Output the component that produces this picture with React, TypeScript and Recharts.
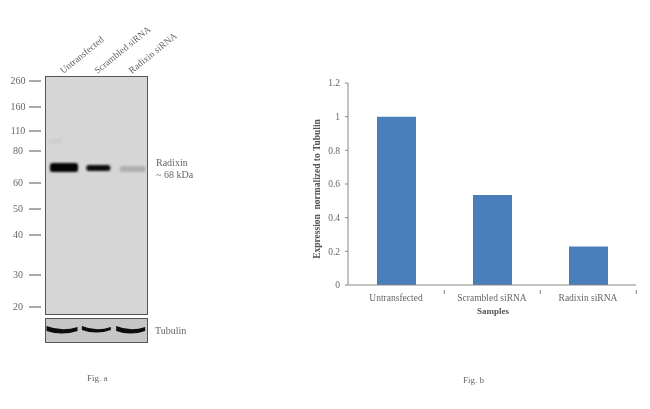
import React from "react";
import { BarChart, Bar, XAxis, YAxis } from "recharts";

// Fig. a — western blot lanes
const lanes = ["Untransfected", "Scrambled siRNA", "Radixin siRNA"];
const markerLabels = ["260", "160", "110", "80", "60", "50", "40", "30", "20"];
const markerMigration = [5, 31, 55, 75, 107, 133, 159, 199, 231];
const radixinBandTop = [87, 89, 90];
const radixinBandBottom = [96, 95, 96];
const radixinDarkness = [1, 0.96, 0.18];
const faintBandTop = [63, null, null];
const faintBandBottom = [67, null, null];
const tubulinBandTop = [8, 8, 8];
const tubulinBandBottom = [16, 15, 16];

// Fig. b — normalized expression
const samples = ["Untransfected", "Scrambled siRNA", "Radixin siRNA"];
const expression = [1.0, 0.535, 0.228];
const yTicks = [0, 0.2, 0.4, 0.6, 0.8, 1, 1.2];

const blotData = lanes.map((lane, i) => ({
  lane,
  band: [radixinBandTop[i], radixinBandBottom[i]],
  faint: faintBandTop[i] == null ? null : [faintBandTop[i], faintBandBottom[i]],
  darkness: radixinDarkness[i],
}));
const tubulinData = lanes.map((lane, i) => ({
  lane,
  band: [tubulinBandTop[i], tubulinBandBottom[i]],
}));
const expressionData = samples.map((sample, i) => ({ sample, value: expression[i] }));

const SERIF = "'Liberation Serif', serif";
const TEXT = "#666";
const radixinWidths = [28, 24, 26];
const tubulinWidths = [31, 29, 29];

const box = (p: any) => ({
  top: Math.min(p.y, p.y + p.height),
  h: Math.abs(p.height),
});

const RadixinBand = (p: any) => {
  const w = radixinWidths[p.index] ?? p.width;
  const d = p.payload.darkness;
  const v = Math.round(214 - 214 * d * 0.98);
  const { top, h } = box(p);
  return (
    <rect
      x={p.x + p.width / 2 - w / 2}
      y={top}
      width={w}
      height={h}
      rx={2.5}
      fill={`rgb(${v},${v},${v})`}
      style={{ filter: "blur(0.8px)" }}
    />
  );
};

const FaintBand = (p: any) => {
  const { top, h } = box(p);
  return <rect x={p.x + 4} y={top} width={13} height={h} fill="#cccccc" style={{ filter: "blur(1.2px)" }} />;
};

const TubulinBand = (p: any) => {
  const w = tubulinWidths[p.index] ?? p.width;
  const l = p.x + p.width / 2 - w / 2;
  const r = l + w;
  const { top: t, h } = box(p);
  const b = t + h;
  const m = (l + r) / 2;
  const path = `M${l} ${t} Q${m} ${t + 6} ${r} ${t + 1} L${r} ${b - 3} Q${m} ${b + 2} ${l} ${b - 3} Z`;
  return <path d={path} fill="#0c0c0c" style={{ filter: "blur(0.6px)" }} />;
};

const MarkerTick = (p: any) => {
  const i = markerMigration.indexOf(p.payload.value);
  return (
    <g>
      <line x1={29} x2={41} y1={p.y} y2={p.y} stroke="#555" strokeWidth={1} />
      <text x={18} y={p.y + 3} textAnchor="middle" fontSize={10} fontFamily={SERIF} fill={TEXT}>
        {markerLabels[i]}
      </text>
    </g>
  );
};

const LaneTick = (p: any) => (
  <text
    x={p.x + 1}
    y={p.y + 6}
    fontSize={9.5}
    fontFamily={SERIF}
    fill={TEXT}
    transform={`rotate(-39 ${p.x + 1} ${p.y + 6})`}
  >
    {p.payload.value}
  </text>
);

const SampleTick = (p: any) => (
  <g>
    <line x1={p.x + 48.3} x2={p.x + 48.3} y1={p.y - 3} y2={p.y + 1} stroke="#888" />
    <text x={p.x} y={p.y + 8} textAnchor="middle" fontSize={9.5} fontFamily={SERIF} fill={TEXT}>
      {p.payload.value}
    </text>
  </g>
);

const Label = ({ x, y, children, style }: any) => (
  <div
    style={{
      position: "absolute",
      left: x,
      top: y,
      fontFamily: SERIF,
      fontSize: 10,
      lineHeight: "12px",
      color: TEXT,
      whiteSpace: "nowrap",
      ...style,
    }}
  >
    {children}
  </div>
);

const panel = (top: number, height: number, background: string): React.CSSProperties => ({
  position: "absolute",
  left: 45,
  top,
  width: 103,
  height,
  boxSizing: "border-box",
  border: "1px solid #555",
  background,
});

export default function App() {
  return (
    <div
      style={{
        position: "absolute",
        left: 0,
        top: 0,
        width: 650,
        height: 409,
        background: "#fff",
        overflow: "hidden",
        filter: "blur(0.35px)",
      }}
    >
      <div style={panel(76, 239, "#d6d6d6")} />
      <div style={panel(318, 25, "#c6c6c6")} />

      <div style={{ position: "absolute", left: 0, top: 0 }}>
        <BarChart
          width={200}
          height={315}
          data={blotData}
          margin={{ top: 46, right: 52, bottom: 0, left: 0 }}
          barSize={30}
          barGap="-100%"
        >
          <XAxis
            dataKey="lane"
            orientation="top"
            height={30}
            axisLine={false}
            tickLine={false}
            tick={<LaneTick />}
            interval={0}
          />
          <YAxis
            type="number"
            reversed
            width={45}
            domain={[0, 239]}
            ticks={markerMigration}
            interval={0}
            axisLine={false}
            tickLine={false}
            tick={<MarkerTick />}
          />
          <Bar dataKey="band" isAnimationActive={false} shape={<RadixinBand />} />
          <Bar dataKey="faint" isAnimationActive={false} shape={<FaintBand />} />
        </BarChart>
      </div>

      <div style={{ position: "absolute", left: 45, top: 318 }}>
        <BarChart width={103} height={25} data={tubulinData} margin={{ top: 0, right: 0, bottom: 0, left: 0 }} barSize={30}>
          <XAxis dataKey="lane" hide />
          <YAxis hide reversed domain={[0, 25]} />
          <Bar dataKey="band" isAnimationActive={false} shape={<TubulinBand />} />
        </BarChart>
      </div>

      <div style={{ position: "absolute", left: 0, top: 0 }}>
        <BarChart
          width={650}
          height={325}
          data={expressionData}
          margin={{ top: 83, right: 14, bottom: 0, left: 0 }}
          barSize={39}
        >
          <XAxis
            dataKey="sample"
            height={40}
            interval={0}
            axisLine={{ stroke: "#888" }}
            tickLine={false}
            tick={<SampleTick />}
          />
          <YAxis
            type="number"
            width={348}
            domain={[0, 1.2]}
            ticks={yTicks}
            interval={0}
            axisLine={{ stroke: "#888" }}
            tickLine={{ stroke: "#888" }}
            tickSize={3}
            tickMargin={5}
            tick={{ fontSize: 9.5, fontFamily: SERIF, fill: TEXT }}
            tickFormatter={(v: number) => String(v)}
          />
          <Bar dataKey="value" fill="#4a7ebb" isAnimationActive={false} />
        </BarChart>
      </div>

      <Label x={156} y={157}>Radixin</Label>
      <Label x={156} y={169}>~ 68 kDa</Label>
      <Label x={155} y={325}>Tubulin</Label>
      <Label x={87} y={372} style={{ fontSize: 9 }}>Fig. a</Label>
      <Label x={463} y={374} style={{ fontSize: 9 }}>Fig. b</Label>
      <Label x={493} y={305} style={{ transform: "translateX(-50%)", fontWeight: 700, fontSize: 9, color: "#555" }}>Samples</Label>
      <Label
        x={317}
        y={189}
        style={{ transform: "translate(-50%,-50%) rotate(-90deg)", fontWeight: 700, fontSize: 9.5, whiteSpace: "pre", color: "#555" }}
      >
        {"Expression  normalized to Tubulin"}
      </Label>
    </div>
  );
}
